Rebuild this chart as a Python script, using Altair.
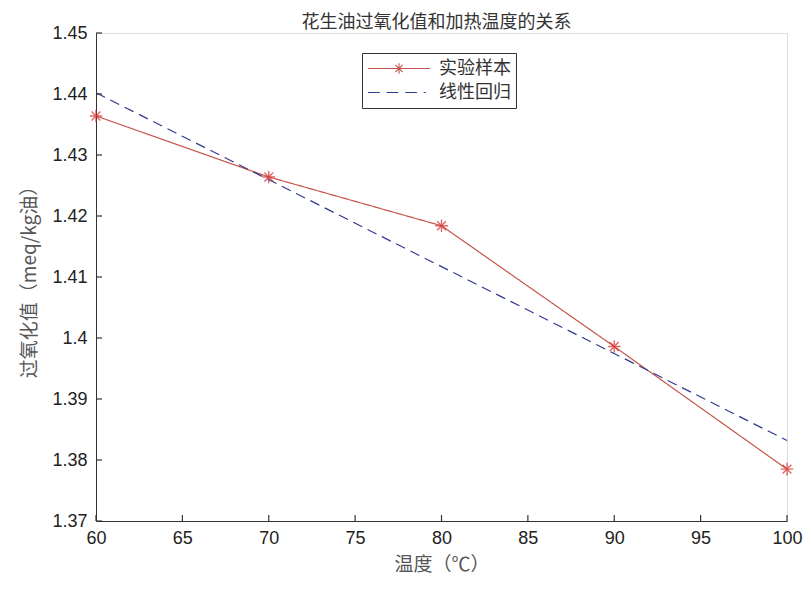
import altair as alt
import pandas as pd

# ---- data ----
temps = [60, 70, 80, 90, 100]
peroxide = [1.4364, 1.4264, 1.4184, 1.3986, 1.3785]
reg_x = [60, 100]
reg_y = [1.4402, 1.3832]
series_names = ["实验样本", "线性回归"]
y_ticks = [1.37, 1.38, 1.39, 1.40, 1.41, 1.42, 1.43, 1.44, 1.45]
x_ticks = [60, 65, 70, 75, 80, 85, 90, 95, 100]

df = pd.DataFrame(
    {"温度": temps + reg_x,
     "值": peroxide + reg_y,
     "系列": [series_names[0]] * len(temps) + [series_names[1]] * len(reg_x)}
)
legend_df = pd.DataFrame({"系列": series_names})
xt_df = pd.DataFrame({"温度": x_ticks})
yt_df = pd.DataFrame({"值": y_ticks})

CJK = "Noto Sans CJK SC"
NUM = "Liberation Sans"
LINE_RED = "#c4564a"
STAR_RED = "#d42a2a"
NAVY = "#2f3a8f"
W, H = 691, 488

STAR = "M0,-1L0,1M-1,0L1,0M-0.7,-0.7L0.7,0.7M-0.7,0.7L0.7,-0.7"
LEG_SAMPLE = ("M-1,0L1,0M0,-0.17L0,0.17M-0.17,0L0.17,0"
              "M-0.12,-0.12L0.12,0.12M-0.12,0.12L0.12,-0.12")
LEG_REG = "M-1,0L-0.62,0M-0.4,0L-0.02,0M0.2,0L0.58,0M0.8,0L0.86,0"

xscale = alt.Scale(domain=[60, 100], nice=False, zero=False)
yscale = alt.Scale(domain=[1.37, 1.45], nice=False, zero=False)
cscale = alt.Scale(domain=series_names, range=[LINE_RED, NAVY])

x_main = alt.X("温度:Q", scale=xscale, title="温度（℃）",
               axis=alt.Axis(values=x_ticks, tickSize=0, labelPadding=8, labelFlush=False,
                             labelFont=NUM, labelFontSize=18, labelColor="#222",
                             titleFont=CJK, titleFontSize=19, titleFontWeight="normal",
                             titleColor="#555", titlePadding=8,
                             domainColor="#333", grid=False))
y_main = alt.Y("值:Q", scale=yscale, title="过氧化值（meq/kg油）",
               axis=alt.Axis(values=y_ticks, format=".3~g", tickSize=0, labelPadding=9,
                             labelFlush=False,
                             labelFont=NUM, labelFontSize=18, labelColor="#222",
                             titleFont=CJK, titleFontSize=19, titleFontWeight="normal",
                             titleColor="#555", titlePadding=12,
                             domainColor="#333", grid=False))

lines = alt.Chart(df).mark_line(strokeWidth=1.2).encode(
    x=x_main,
    y=y_main,
    color=alt.Color("系列:N", scale=cscale, legend=None),
    strokeDash=alt.StrokeDash("系列:N",
                              scale=alt.Scale(domain=series_names, range=[[1, 0], [10, 6]]),
                              legend=None),
)

# inward tick marks
yticks_layer = alt.Chart(yt_df).mark_rule(color="#333", strokeWidth=1.2).encode(
    y=alt.Y("值:Q", scale=yscale),
    x=alt.value(0), x2=alt.value(6),
)
xticks_layer = alt.Chart(xt_df).mark_rule(color="#333", strokeWidth=1.2).encode(
    x=alt.X("温度:Q", scale=xscale),
    y=alt.value(H), y2=alt.value(H - 6),
)

stars = alt.Chart(df).transform_filter(
    alt.datum["系列"] == series_names[0]
).mark_point(shape=STAR, size=160, strokeWidth=1.4, color=STAR_RED, filled=False).encode(
    x=alt.X("温度:Q", scale=xscale),
    y=alt.Y("值:Q", scale=yscale),
)

leg = dict(title=None, orient="none", legendX=266, legendY=20,
           strokeColor="#333", fillColor="white", padding=5,
           symbolOpacity=1, symbolSize=3844, symbolStrokeWidth=1.1,
           clipHeight=21, rowPadding=3, labelOffset=8,
           labelFont=CJK, labelFontSize=18, labelColor="#333")

legend_layer = alt.Chart(legend_df).mark_point(filled=False, opacity=0, strokeWidth=1.1).encode(
    x=alt.value(0),
    y=alt.value(0),
    color=alt.Color("系列:N", scale=cscale, legend=alt.Legend(**leg)),
    shape=alt.Shape("系列:N",
                    scale=alt.Scale(domain=series_names, range=[LEG_SAMPLE, LEG_REG]),
                    legend=alt.Legend(**leg)),
)

chart = alt.layer(lines, yticks_layer, xticks_layer, stars, legend_layer).resolve_legend(
    color="independent", shape="independent"
).properties(
    width=W,
    height=H,
    title=alt.TitleParams("花生油过氧化值和加热温度的关系", font=CJK, fontSize=18,
                          fontWeight="normal", color="#333", offset=-8, anchor="middle",
                          frame="group", dx=-5),
    autosize=alt.AutoSizeParams(type="none"),
    padding={"left": 88, "top": 25, "right": 16, "bottom": 67},
).configure_view(stroke=None).configure(background="white")

chart.save("out.html", embed_options={"renderer": "svg", "actions": False})
